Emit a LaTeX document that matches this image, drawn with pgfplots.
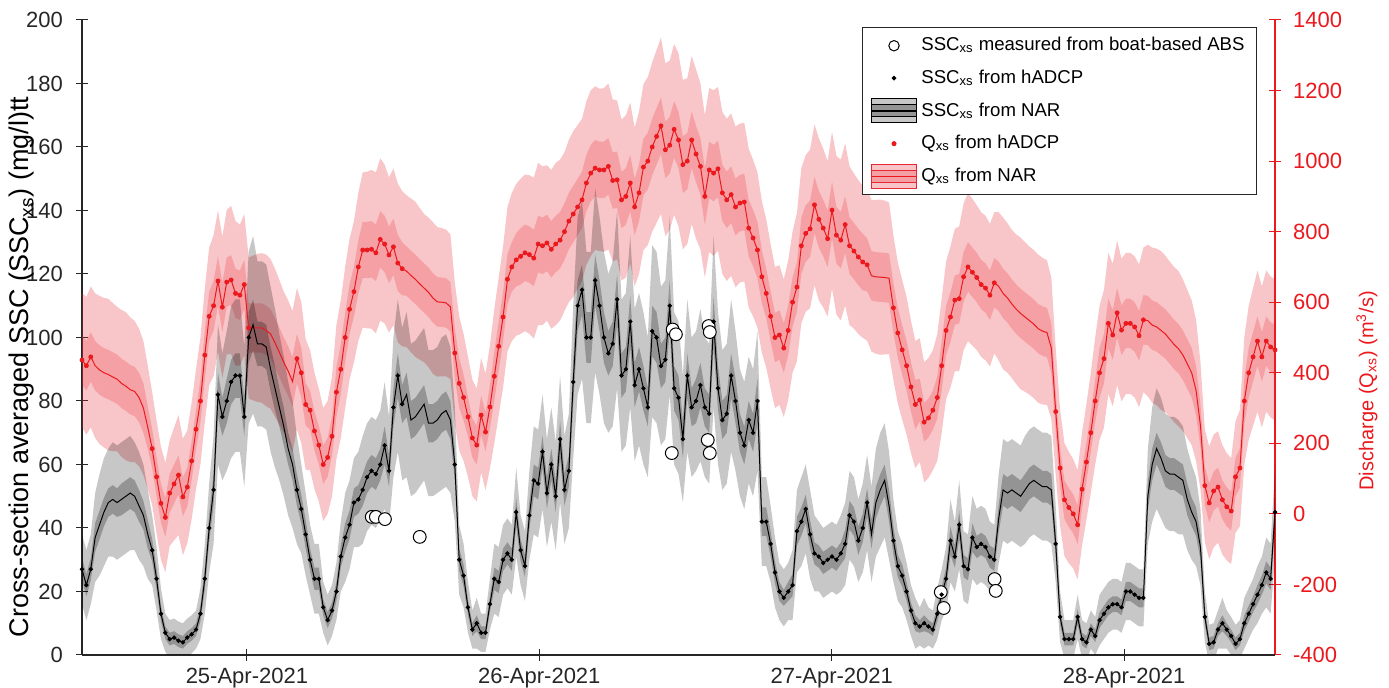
\documentclass[border=0pt]{standalone}
\usepackage{fontspec}
\setmainfont{Liberation Sans}
\usepackage{pgfplots}
\usepackage{pgfplotstable}
\pgfplotsset{compat=1.18}
\usepgfplotslibrary{fillbetween}
\usetikzlibrary{calc}

\definecolor{axgray}{RGB}{38,38,38}
\definecolor{qred}{RGB}{235,25,30}
\definecolor{qband}{RGB}{230,40,50}

% t = days from 25-Apr-2021 00:00, s = SSC (mg/l), q = Q (m3/s)
% h = 1 where hADCP data exist, sa/sb and qa/qb = half widths of inner/outer NAR bands
\pgfplotstableread{
t s q h sa sb qa qb
-0.564 27 436 1 3.5 11 70 190
-0.549 22 420 1 3.5 11 70 195
-0.534 27 445 1 3.5 11 70 200
-0.519 37 420 0 4.5 14 70 205
-0.504 41 408 0 4.5 16 70 210
-0.489 45 400 0 4.5 17 70 212
-0.474 48 395 0 4.5 17 70 215
-0.459 49 388 0 4.5 18 70 210
-0.444 48 382 0 4.5 18 70 205
-0.429 49 370 0 5 18 70 208
-0.414 50 362 0 5 18 70 210
-0.399 51 352 0 5 18 70 205
-0.384 50 347 0 5 17 70 200
-0.369 47 330 0 5 17 70 195
-0.354 44 300 0 4.5 16 70 190
-0.339 38 245 0 4.5 14 60 175
-0.324 33 185 1 3.5 11 55 160
-0.309 24 105 1 3.5 10 55 160
-0.294 13 30 1 2.5 8 55 160
-0.279 7 -10 1 2 6 55 155
-0.264 5 59 1 2 6 55 150
-0.249 5.5 85 1 2 6 55 160
-0.234 4.5 110 1 2 6 55 170
-0.219 4 48 1 2 6 55 165
-0.204 5.5 76 1 2 6 55 160
-0.189 6.5 150 1 2 6 55 165
-0.174 8 240 1 2 6 55 170
-0.159 13 320 1 2.5 8 60 180
-0.144 24 450 1 3.5 11 70 190
-0.129 40 560 1 4.5 14 70 195
-0.114 52 590 1 5 17 70 200
-0.099 82 660 1 7 22 70 200
-0.084 75 586 1 6 20 70 200
-0.069 80 657 1 7 22 70 205
-0.054 86 663 1 7 24 70 210
-0.039 88 625 1 7 24 70 205
-0.024 88 620 1 7 24 70 200
-0.009 75 650 1 6 22 70 200
0.006 100 527 1 8 27 70 200
0.021 104 527 0 8 28 70 205
0.036 98 527 0 7 26 70 210
0.051 98 527 0 7 26 70 212
0.066 97 520 0 7 26 70 215
0.081 90 510 0 7 26 70 212
0.096 84 485 0 7 25 70 210
0.111 78 458 0 6 23 70 205
0.126 72 430 0 6 22 70 200
0.141 65 405 0 5 21 70 200
0.156 60 375 0 5 20 70 200
0.171 52 440 1 5 17 70 200
0.186 46 400 1 4.5 14 70 200
0.201 38 310 1 4.5 13 60 185
0.216 30 294 1 3.5 11 55 170
0.231 24 235 1 3.5 11 55 165
0.246 24 195 1 3.5 11 55 160
0.261 15 140 1 2.5 8 55 160
0.276 11 160 1 2.5 8 55 160
0.291 14 220 1 2.5 8 55 170
0.306 20 345 1 3 9 70 190
0.321 31 410 1 3.5 11 70 195
0.336 37 500 1 4.5 14 70 200
0.351 41 580 1 4.5 14 70 200
0.366 48 630 1 4.5 14 70 200
0.381 49 700 1 4.5 15 75 210
0.396 52 748 1 5 17 80 220
0.411 56 748 1 5 17 80 222
0.426 58 750 1 5 17 80 225
0.441 57 740 1 5 17 80 228
0.456 60 778 1 5 17 80 230
0.471 66 765 1 6 20 80 225
0.486 58 734 1 5 17 80 220
0.501 78 757 1 6 22 80 222
0.516 88 711 1 7 24 80 225
0.531 79 695 1 6 24 75 220
0.546 82 688 0 7 26 70 215
0.561 74 676 0 6 24 70 218
0.576 75 665 0 6 24 70 220
0.591 77 652 0 6 24 70 215
0.606 79 640 0 6 24 70 210
0.621 73 628 0 6 23 70 212
0.636 73 612 0 6 23 70 215
0.651 74 601 0 6 23 70 212
0.666 76 600 0 6 24 70 210
0.681 77 598 0 6 24 70 208
0.696 74 587 0 6 23 70 205
0.711 60 456 1 5 18 70 200
0.726 30 370 1 3.5 11 70 190
0.741 25 330 1 3.5 10 65 180
0.756 15 275 1 2.5 8 55 170
0.771 8 215 1 2 6 55 165
0.786 10 195 1 2.5 8 55 160
0.801 7 280 1 2 6 55 162
0.816 7 232 1 2 6 55 165
0.831 16 303 1 2.5 8 60 175
0.846 24 390 1 3.5 11 70 190
0.861 23 475 1 3.5 11 70 195
0.876 30 558 1 3.5 11 70 200
0.891 32 665 1 3.5 11 70 205
0.906 30 700 1 3.5 11 70 210
0.921 45 720 1 4.5 14 75 215
0.936 33 730 1 3.5 11 80 220
0.951 28 740 1 3.5 11 80 222
0.966 44 735 1 4.5 14 80 225
0.981 55 725 1 5 17 80 228
0.996 54 765 1 5 17 80 230
1.011 64 760 1 5 18 80 225
1.026 51 768 1 5 17 80 220
1.041 60 750 1 5 18 80 225
1.056 50 765 1 5 17 80 230
1.071 68 776 1 6 20 80 228
1.086 52 800 1 5 17 80 225
1.101 58 830 1 5 18 80 230
1.116 86 850 1 7 24 80 235
1.131 110 870 1 8 28 80 232
1.146 115 890 1 8 28 80 230
1.161 100 938 1 8 27 80 232
1.176 100 966 1 8 27 80 235
1.191 118 980 1 8 29 80 232
1.206 110 975 1 8 28 80 230
1.221 100 975 1 8 27 80 232
1.236 95 985 1 7 25 80 235
1.251 98 945 1 7 26 80 230
1.266 112 947 1 8 28 80 225
1.281 88 890 1 7 24 80 228
1.296 90 900 1 7 24 80 230
1.311 105 938 1 8 27 80 228
1.326 85 870 1 7 24 80 225
1.341 90 910 1 7 24 80 230
1.356 84 983 1 7 24 80 235
1.371 78 1000 1 6 22 80 238
1.386 102 1040 1 8 27 80 240
1.401 100 1070 1 8 27 80 245
1.416 91 1100 1 7 25 80 250
1.431 93 1032 1 7 25 80 245
1.446 110 1045 1 8 28 80 240
1.461 84 1090 1 7 24 80 242
1.476 81 1060 1 7 24 80 245
1.491 68 990 1 6 20 80 240
1.506 88 1000 1 7 24 80 235
1.521 78 1060 1 6 22 80 238
1.536 80 1020 1 7 22 80 240
1.551 85 985 1 7 24 80 235
1.566 78 900 1 6 22 80 230
1.581 76 975 1 6 22 80 232
1.596 105 966 1 8 27 80 235
1.611 84 978 1 7 24 80 232
1.626 74 910 1 6 22 80 230
1.641 76 890 1 6 22 80 230
1.656 88 905 1 7 24 80 230
1.671 80 870 1 7 22 80 228
1.686 70 881 1 6 20 80 225
1.701 66 884 1 6 20 80 225
1.716 74 810 1 6 20 80 225
1.731 70 782 1 6 20 80 222
1.746 80 748 1 7 22 80 220
1.761 42 672 1 4.5 14 75 215
1.776 42 625 1 4.5 14 70 210
1.791 35 560 1 4 12 70 205
1.806 26 500 1 3.5 11 70 200
1.821 20 507 1 3 9 70 198
1.836 18 470 1 2.5 9 70 195
1.851 20 520 1 3 9 70 198
1.866 22 600 1 3.5 11 70 200
1.881 39 643 1 4.5 13 70 210
1.896 42 760 1 4.5 14 80 220
1.911 46 795 1 4.5 14 80 222
1.926 38 808 1 4.5 14 80 225
1.941 32 876 1 3.5 12 80 228
1.956 31 835 1 3.5 11 80 230
1.971 29 810 1 3.5 11 80 225
1.986 30 780 1 3.5 11 80 220
2.001 31 861 1 3.5 11 80 222
2.016 30 790 1 3.5 11 80 225
2.031 32 776 1 3.5 12 80 228
2.046 35 820 1 4.5 13 80 230
2.061 44 760 1 4.5 14 80 225
2.076 42 745 1 4.5 14 80 220
2.091 36 728 1 4.5 13 80 218
2.106 40 714 1 4.5 14 80 215
2.121 48 706 1 4.5 15 75 215
2.136 38 675 0 4.5 15 70 215
2.151 48 672 0 5 17 70 218
2.166 52 671 0 5 18 70 220
2.181 55 670 0 5 18 70 218
2.196 47 668 0 5 17 70 215
2.211 36 584 1 4.5 13 70 205
2.226 28 513 1 3.5 11 70 200
2.241 25 465 1 3.5 10 70 198
2.256 20 420 1 3 9 70 195
2.271 14 360 1 2.5 8 70 188
2.286 10 310 1 2.5 8 70 180
2.301 9 323 1 2 6 60 175
2.316 10 260 1 2.5 8 55 170
2.331 9 272 1 2 6 55 170
2.346 8 294 1 2 6 55 170
2.361 13 330 1 2.5 8 60 180
2.376 19 420 1 2.5 8 70 190
2.391 24 520 1 3.5 10 70 195
2.406 36 558 1 4.5 13 70 200
2.421 31 606 1 3.5 11 70 202
2.436 41 610 1 4.5 14 70 205
2.451 28 672 1 3.5 11 70 208
2.466 27 700 1 3.5 11 70 210
2.481 37 685 1 4.5 13 70 208
2.496 34 670 1 3.5 12 70 205
2.511 35 650 1 3.5 12 70 205
2.526 34 640 1 3.5 12 70 205
2.541 31 620 1 3.5 11 70 202
2.556 30 655 1 3.5 11 70 200
2.571 43 645 0 4.5 14 70 210
2.586 52 625 0 5 16 70 215
2.601 51 612 0 5 16 70 212
2.616 52 595 0 5 16 70 210
2.631 51 580 0 5 16 70 212
2.646 50 568 0 5 16 70 215
2.661 52 558 0 5 17 70 212
2.676 54 548 0 5 17 70 210
2.691 55 538 0 5 17 70 210
2.706 54 525 0 5 17 70 210
2.721 53 518 0 5 17 70 208
2.736 53 514 0 5 17 70 205
2.751 52 470 0 5 17 70 200
2.766 35 290 1 4 12 55 180
2.781 12 130 1 2.5 8 55 165
2.796 5 40 1 2 6 55 160
2.811 5 18 1 2 6 55 158
2.826 5 0 1 2 6 55 155
2.841 12 -31 1 2.5 7 55 155
2.856 5 70 1 2 6 55 160
2.871 4 147 1 2 6 55 165
2.886 8 230 1 2 6 55 170
2.901 6 320 1 2 6 60 180
2.916 11 400 1 2.5 8 70 190
2.931 13 440 1 2.5 8 70 195
2.946 15 540 1 2.5 8 70 200
2.961 16 507 1 2.5 8 70 202
2.976 16 570 1 2.5 8 70 205
2.991 15 521 1 2.5 8 70 202
3.006 20 540 1 3 9 70 200
3.021 20 540 1 3 9 70 200
3.036 19 530 1 3 9 70 200
3.051 18 505 1 3 9 70 202
3.066 18 550 1 3 9 70 205
3.081 50 548 0 4.5 15 70 215
3.096 60 535 0 5 18 70 220
3.111 65 530 0 5 19 70 222
3.126 62 520 0 5 19 70 225
3.141 58 510 0 5 18 70 222
3.156 57 495 0 5 18 70 220
3.171 57 480 0 5 18 70 220
3.186 56 468 0 5 18 70 220
3.201 55 450 0 5 17 70 215
3.216 49 425 0 5 16 70 210
3.231 45 400 0 4.5 15 70 205
3.246 42 350 0 4.5 14 70 200
3.261 34 250 0 4 12 60 180
3.276 12 80 1 2.5 8 55 160
3.291 3.5 31 1 2 6 55 160
3.306 4 65 1 2 6 55 160
3.321 8 76 1 2 6 55 158
3.336 10 40 1 2.5 8 55 155
3.351 8 20 1 2 6 55 152
3.366 6 8 1 2 6 55 150
3.381 3.5 105 1 2 6 55 158
3.396 5 130 1 2 6 55 165
3.411 10 320 1 2.5 8 65 180
3.426 13 400 1 2.5 8 70 190
3.441 16 445 1 2.5 8 70 195
3.456 19 490 1 3 9 70 200
3.471 22 445 1 3 9 70 200
3.486 26 490 1 3.5 11 70 200
3.501 24 473 1 3.5 11 70 200
3.516 45 465 1 4.5 14 70 200
}\data

\pgfplotsset{
  common/.style={
    width=596.5pt, height=317.5pt, scale only axis,
    xmin=-0.564, xmax=3.516,
    tick align=inside, major tick length=6pt,
    /pgf/number format/assume math mode=true,
    /pgf/number format/1000 sep={},
    tick label style={font=\fontsize{11}{13}\selectfont},
    label style={font=\fontsize{13.5}{16}\selectfont},
  }
}

\begin{document}
\begin{tikzpicture}
% discharge, right axis
\begin{axis}[common,
    axis x line=none, axis y line=right,
    y axis line style={-, draw=qred, line width=0.6pt},
    ytick style={draw=qred, line width=0.5pt},
    yticklabel style={text=qred, xshift=2.5pt},
    ymin=-400, ymax=1400, ytick={-400,-200,...,1400},
    ylabel={Discharge (Q\textsubscript{xs}) (m\textsuperscript{3}/s)},
    ylabel style={text=qred, at={(axis description cs:1.077,0.416)}, anchor=center},
]
\addplot[name path=qu2, draw=none, forget plot] table[x=t, y expr=\thisrow{q}+\thisrow{qb}]{\data};
\addplot[name path=ql2, draw=none, forget plot] table[x=t, y expr=\thisrow{q}-\thisrow{qb}]{\data};
\addplot[fill=qband, fill opacity=0.27, draw=none, forget plot] fill between[of=qu2 and ql2];
\addplot[name path=qu1, draw=none, forget plot] table[x=t, y expr=\thisrow{q}+\thisrow{qa}]{\data};
\addplot[name path=ql1, draw=none, forget plot] table[x=t, y expr=\thisrow{q}-\thisrow{qa}]{\data};
\addplot[fill=qband, fill opacity=0.236, draw=none, forget plot] fill between[of=qu1 and ql1];
\addplot[qred, line width=0.5pt, forget plot] table[x=t, y=q]{\data};
\addplot[qred, only marks, mark=*, mark size=1pt, forget plot,
    restrict expr to domain={\thisrow{h}}{1:1}] table[x=t, y=q]{\data};
\end{axis}

% SSC, left axis
\begin{axis}[common, name=main,
    axis x line=bottom, axis y line=left,
    axis line style={-, draw=axgray, line width=0.6pt},
    major tick style={draw=axgray, line width=0.5pt},
    ymin=0, ymax=200, ytick={0,20,...,200},
    yticklabel style={text=axgray, xshift=-3pt},
    xtick={0,1,2,3},
    xticklabels={25-Apr-2021,26-Apr-2021,27-Apr-2021,28-Apr-2021},
    xticklabel style={text=axgray},
    ylabel={Cross-section averaged SSC (SSC\textsubscript{xs}) (mg/l)tt},
    ylabel style={text=black, at={(axis description cs:-0.0503,0.4535)}, anchor=center},
    legend cell align=left,
    legend style={at={(1,1)}, anchor=north east, xshift=-9pt, yshift=-3.5pt,
        draw=axgray, line width=0.5pt, fill=white,
        font=\fontsize{9.3}{11}\selectfont, row sep=4pt, inner xsep=4pt, inner ysep=3pt},
]
\addplot[name path=su2, draw=none, forget plot] table[x=t, y expr=\thisrow{s}+\thisrow{sb}]{\data};
\addplot[name path=sl2, draw=none, forget plot] table[x=t, y expr=\thisrow{s}-\thisrow{sb}]{\data};
\addplot[fill=black, fill opacity=0.22, draw=none, forget plot] fill between[of=su2 and sl2];
\addplot[name path=su1, draw=none, forget plot] table[x=t, y expr=\thisrow{s}+\thisrow{sa}]{\data};
\addplot[name path=sl1, draw=none, forget plot] table[x=t, y expr=\thisrow{s}-\thisrow{sa}]{\data};
\addplot[fill=black, fill opacity=0.256, draw=none, forget plot] fill between[of=su1 and sl1];
\addplot[black, line width=0.5pt, forget plot] table[x=t, y=s]{\data};
\addplot[only marks, mark=*, mark size=3.2pt, forget plot,
    mark options={draw=black, fill=white, line width=0.5pt}] coordinates {
    (0.427,43.5) (0.441,43.5) (0.472,42.8) (0.591,37.2)
    (1.456,102.5) (1.467,101) (1.453,63.6)
    (1.579,103.6) (1.583,101.7) (1.576,67.7) (1.583,63.6)
    (2.373,19.8) (2.383,14.8) (2.557,23.9) (2.561,20.2)
};
\addplot[black, only marks, mark=*, mark size=0.9pt, forget plot,
    restrict expr to domain={\thisrow{h}}{1:1}] table[x=t, y=s]{\data};

\addlegendimage{legend image code/.code={
    \draw[black, fill=white, line width=0.5pt] (0.4cm,0cm) circle (2.6pt);}}
\addlegendentry{SSC\textsubscript{xs} measured from boat-based ABS}
\addlegendimage{legend image code/.code={
    \fill[black] (0.4cm,0cm) circle (0.9pt);}}
\addlegendentry{SSC\textsubscript{xs} from hADCP}
\addlegendimage{legend image code/.code={
    \fill[black, fill opacity=0.22] (0cm,-6pt) rectangle (0.8cm,6pt);
    \fill[black, fill opacity=0.256] (0cm,-3pt) rectangle (0.8cm,3pt);
    \draw[black, line width=0.6pt] (0cm,0cm) -- (0.8cm,0cm);}}
\addlegendentry{SSC\textsubscript{xs} from NAR}
\addlegendimage{legend image code/.code={
    \fill[qred] (0.4cm,0cm) circle (1pt);}}
\addlegendentry{Q\textsubscript{xs} from hADCP}
\addlegendimage{legend image code/.code={
    \fill[qband, fill opacity=0.27] (0cm,-6pt) rectangle (0.8cm,6pt);
    \fill[qband, fill opacity=0.236] (0cm,-3pt) rectangle (0.8cm,3pt);
    \draw[qred, line width=0.6pt] (0cm,0cm) -- (0.8cm,0cm);}}
\addlegendentry{Q\textsubscript{xs} from NAR}
\end{axis}
\pgfresetboundingbox
\path ($(main.south west)+(-41pt,-16.5pt)$) rectangle ($(main.north east)+(57pt,10pt)$);
\end{tikzpicture}
\end{document}
